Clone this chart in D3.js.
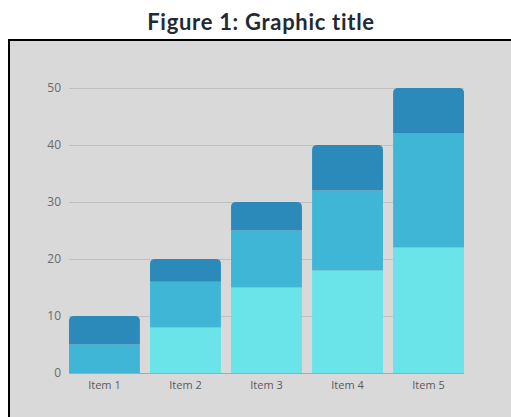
<!DOCTYPE html>
<html>
<head>
<meta charset="utf-8">
<script src="https://cdn.jsdelivr.net/npm/d3@7"></script>
<style>
  html, body { margin: 0; padding: 0; background: #ffffff; }
  svg { display: block; }
</style>
</head>
<body>
<div id="chart-area"></div>
<script>
// chart data
var items = ["Item 1", "Item 2", "Item 3", "Item 4", "Item 5"];
var seriesA = [0, 8, 15, 18, 22];   // bottom (light cyan)
var seriesB = [5, 8, 10, 14, 20];   // middle
var seriesC = [5, 4, 5, 8, 8];      // top (dark)
var yTicks = [0, 10, 20, 30, 40, 50];
var colors = ["#6ae4e8", "#40b6d6", "#2b8aba"];

var W = 511, H = 417;
var margin = { left: 69, right: 47, top: 88, bottom: 44 };
var width = W - margin.left - margin.right;
var height = H - margin.top - margin.bottom;

var svg = d3.select("#chart-area")
	.append("svg")
	.attr("width", W)
	.attr("height", H);

// title
svg.append("text")
	.attr("x", 261)
	.attr("y", 30)
	.attr("text-anchor", "middle")
	.style("font-family", "Lato, 'Open Sans', sans-serif")
	.style("font-weight", "bold")
	.style("font-size", "22px")
	.style("letter-spacing", "0.7px")
	.attr("fill", "#1f2a36")
	.text("Figure 1: Graphic title");

// framed grey panel (runs off right and bottom)
svg.append("rect")
	.attr("x", 9)
	.attr("y", 40)
	.attr("width", W + 10)
	.attr("height", H + 10)
	.attr("fill", "#d9d9d9")
	.attr("stroke", "#000")
	.attr("stroke-width", 2);

var g = svg.append("g")
	.attr("transform", "translate(" + margin.left + "," + margin.top + ")");

var x = d3.scaleBand()
	.domain(items)
	.range([0, width])
	.paddingInner(0.125)
	.paddingOuter(0);

var y = d3.scaleLinear()
	.domain([0, 50])
	.range([height, 0]);

// gridlines
g.selectAll("line.grid")
	.data(yTicks.slice(1))
	.enter()
	.append("line")
		.attr("class", "grid")
		.attr("x1", 0)
		.attr("x2", width)
		.attr("y1", function(d){ return y(d) + 0.5; })
		.attr("y2", function(d){ return y(d) + 0.5; })
		.attr("stroke", "#bfbfbf")
		.attr("stroke-width", 1);

// y axis labels
var yAxis = d3.axisLeft(y).tickValues(yTicks).tickSize(0).tickPadding(8);
var yg = g.append("g").call(yAxis);
yg.select(".domain").remove();
yg.selectAll("text")
	.style("font-family", "'Open Sans', sans-serif")
	.style("font-size", "12px")
	.attr("fill", "#6a6a6a");

// stacked bars
var table = items.map(function(d, i){
	return { item: d, a: seriesA[i], b: seriesB[i], c: seriesC[i] };
});
var stack = d3.stack().keys(["a", "b", "c"]);
var layers = stack(table);

function topIndex(name){
	// index of the highest non-empty layer for this item
	var i = items.indexOf(name), t = 0;
	layers.forEach(function(l, k){ if (l[i][1] > l[i][0]) t = k; });
	return t;
}

var r = 5;
layers.forEach(function(layer, k){
	g.append("g")
		.attr("fill", colors[k])
		.selectAll("path")
		.data(layer.filter(function(d){ return d[1] > d[0]; }))
		.enter()
		.append("path")
			.attr("d", function(d){
				var x0 = x(d.data.item), x1 = x0 + x.bandwidth();
				var y0 = y(d[0]), y1 = y(d[1]);
				if (topIndex(d.data.item) === k) {
					return "M" + x0 + "," + y0 +
						"V" + (y1 + r) +
						"Q" + x0 + "," + y1 + " " + (x0 + r) + "," + y1 +
						"H" + (x1 - r) +
						"Q" + x1 + "," + y1 + " " + x1 + "," + (y1 + r) +
						"V" + y0 + "Z";
				}
				return "M" + x0 + "," + y0 + "V" + y1 + "H" + x1 + "V" + y0 + "Z";
			});
});

// baseline
g.append("line")
	.attr("x1", 0)
	.attr("x2", width)
	.attr("y1", height + 0.5)
	.attr("y2", height + 0.5)
	.attr("stroke", "#a8a8a8")
	.attr("stroke-width", 1);

// x axis labels
var xAxis = d3.axisBottom(x).tickSize(0).tickPadding(8);
var xg = g.append("g")
	.attr("transform", "translate(0," + height + ")")
	.call(xAxis);
xg.select(".domain").remove();
xg.selectAll("text")
	.style("font-family", "'Open Sans', sans-serif")
	.style("font-size", "11px")
	.attr("fill", "#5a5a5a");
</script>
</body>
</html>
